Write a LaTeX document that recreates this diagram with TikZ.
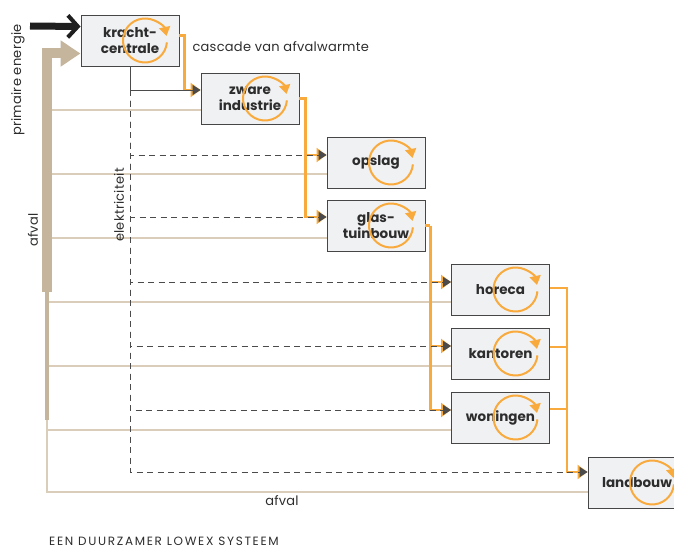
\documentclass[tikz,border=0pt]{standalone}
\usepackage{fontspec}
\setmainfont{Poppins}
\usetikzlibrary{arrows.meta}

\definecolor{heatorange}{RGB}{249,170,60}
\definecolor{boxfill}{RGB}{240,241,243}
\definecolor{boxline}{RGB}{70,70,70}
\definecolor{txt}{RGB}{45,45,45}
\definecolor{eleccol}{RGB}{75,75,75}
\definecolor{wastebar}{RGB}{196,181,156}
\definecolor{wastethin}{RGB}{218,206,186}

\begin{document}
\begin{tikzpicture}[
x=1pt,
y=-1pt,
sector/.style={rectangle, draw=boxline, fill=boxfill, line width=0.9pt, minimum width=98pt, minimum height=51pt, inner sep=0pt, align=center, font=\fontsize{13.5}{16}\selectfont\bfseries, text=txt},
cyclearrow/.style={draw=heatorange, line width=2pt, -{Triangle[length=9pt,width=11pt]}},
heat/.style={draw=heatorange, line width=2.2pt, -{Triangle[length=10pt,width=14pt]}},
heatline/.style={draw=heatorange, line width=2.2pt},
elec/.style={draw=eleccol, line width=1pt, -{Triangle[length=8pt,width=10pt]}},
elecdash/.style={elec, dash pattern=on 6pt off 4.5pt},
primary/.style={draw=black!88, line width=7pt, -{Straight Barb[length=10pt,width=22pt,line width=4pt]}},
wastetrunk/.style={draw=wastebar, line width=10pt, -{Triangle[length=20pt,width=25pt]}},
wastemid/.style={draw=wastebar, line width=4.5pt},
waste/.style={draw=wastethin, line width=1.5pt},
lbl/.style={font=\fontsize{13}{15}\selectfont\addfontfeatures{LetterSpace=2}, text=txt},
]
\clip (0,0) rectangle (674,551);
% sectors
\node[sector] (kc) at (130,40.5) {kracht-\\centrale};
\node[sector] (zi) at (250,98.5) {zware\\industrie};
\node[sector] (op) at (376,162.5) {opslag};
\node[sector] (gt) at (376,225.5) {glas-\\tuinbouw};
\node[sector] (ho) at (500.5,289.5) {horeca};
\node[sector] (ka) at (500.5,353.5) {kantoren};
\node[sector] (wo) at (500.5,417.5) {woningen};
\node[sector] (lb) at (637,482.5) {landbouw};
\foreach \n in {kc,zi,op,gt,ho,ka,wo,lb}
 \draw[cyclearrow] ([xshift=15pt]\n.center) ++(-5:22pt) arc[start angle=-5, end angle=-348, radius=22pt];

% primaire energie
\coordinate (src) at (30,26);
\draw[primary] (src) -- ([yshift=14pt]kc.west);

% afval
\coordinate (wa) at (47,292);
\coordinate (wb) at (47,420);
\draw[waste] (wb) |- ([yshift=-9.5pt]lb.west);
\foreach \n/\d in {zi/11.5pt, op/11.5pt, gt/12.5pt, ho/12.5pt, ka/12.5pt, wo/12.5pt}
 \draw[waste] ([yshift=-\d]\n.west) coordinate (t) -- (t -| wa);
\draw[wastemid] (wa) -- (wb);
\draw[wastetrunk] (wa) |- ([yshift=-13pt]kc.west);

% cascade
\draw[heat] ([yshift=5pt]kc.east) -- ++(5,0) |- ([yshift=8.5pt]zi.west);
\draw[heat] (zi.east) -- ++(6,0) coordinate (hz) |- ([yshift=7.5pt]op.west);
\draw[heat] (hz) |- ([yshift=8.5pt]gt.west);
\draw[heatline] (gt.east) -- ++(5,0) coordinate (hg);
\foreach \n in {ho,ka,wo}
 \draw[heat] (hg) |- ([yshift=7.5pt]\n.west);
\draw[heat] ([yshift=1.5pt]ho.east) -- ++(17,0) coordinate (hh) |- ([yshift=10.5pt]lb.west);
\foreach \n/\d in {ka/6.5pt, wo/8.5pt}
 \draw[heatline] ([yshift=\d]\n.east) coordinate (t) -- (t -| hh);

% elektriciteit
\draw[elec] (kc.south) |- coordinate[pos=0.5] (ea) ([yshift=8.5pt]zi.west);
\foreach \n/\d in {op/7.5pt, gt/8.5pt, ho/7.5pt, ka/7.5pt, wo/7.5pt, lb/10.5pt}
 \draw[elecdash] (ea) |- ([yshift=\d]\n.west);

% labels
\node[lbl, anchor=west] (cas) at (189,47) {cascade van afvalwarmte};
\node[lbl, rotate=90] (pe) at (18,80) {primaire energie};
\node[lbl, rotate=90] (af) at (33,230) {afval};
\node[lbl, rotate=90] (el) at (119,205) {elektriciteit};
\node[lbl] (af2) at (282,501) {afval};
\node[lbl, anchor=base west, inner sep=0pt, font=\fontsize{12}{13}\selectfont\addfontfeatures{LetterSpace=14}] (title) at (49,545.5) {EEN DUURZAMER LOWEX SYSTEEM};
\end{tikzpicture}
\end{document}
